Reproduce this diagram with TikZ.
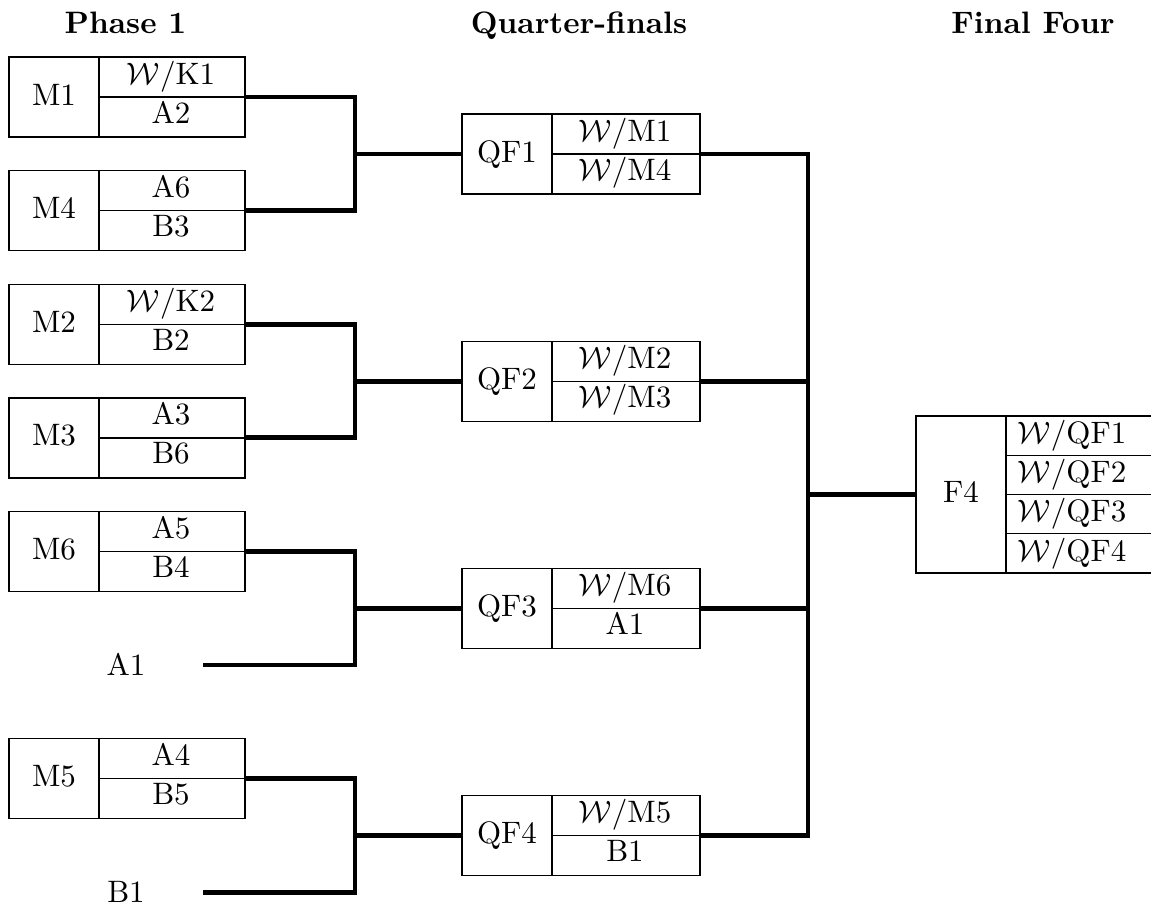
\documentclass[tikz,border=0pt]{standalone}
\usetikzlibrary{calc}
\begin{document}
\begin{tikzpicture}[x=0.3226pt,y=-0.3226pt,
  frame/.style={draw, line width=0.45pt, inner sep=0pt, outer sep=0pt},
  gbox/.style={frame, minimum width=76.13pt, minimum height=25.81pt},
  qbox/.style={frame, minimum width=76.78pt, minimum height=25.81pt},
  txt/.style={inner sep=0pt, anchor=base},
  hdr/.style={inner sep=0pt, anchor=base, font=\bfseries},
  wire/.style={line width=1.6pt}]
\useasboundingbox (0,0) rectangle (1151,907);

\newcommand\gamebox[7]{% style, name, cx, cy, label, top, bottom
  \node[#1] (#2) at (#3,#4) {};
  \draw[line width=0.45pt] ($(#2.north west)+(90,0)$) -- ($(#2.south west)+(90,0)$);
  \draw[line width=0.45pt] ($(#2.west)+(90,0)$) -- (#2.east);
  \node[txt] at ($(#2.west)+(45,8)$) {#5};
  \path (#2.north east) -- ($(#2.north west)+(90,0)$) coordinate[pos=0.5] (#2-rc);
  \node[txt] at ($(#2-rc)+(-1,27)$) {#6};
  \node[txt] at ($(#2-rc)+(-1,66)$) {#7};
}

% headers
\node[hdr] (h1) at (125.5,33) {Phase 1};
\node[hdr] (h2) at (579,33) {Quarter-finals};
\node[hdr] (h3) at (1033,33) {Final Four};

% phase 1
\gamebox{gbox}{M1}{127}{97}{M1}{$\mathcal{W}$/K1}{A2}
\gamebox{gbox}{M4}{127}{210.6}{M4}{A6}{B3}
\gamebox{gbox}{M2}{127}{324.2}{M2}{$\mathcal{W}$/K2}{B2}
\gamebox{gbox}{M3}{127}{437.8}{M3}{A3}{B6}
\gamebox{gbox}{M6}{127}{551.4}{M6}{A5}{B4}
\gamebox{gbox}{M5}{127}{778.6}{M5}{A4}{B5}
\node[txt] (A1) at (126,675.6) {A1};
\node[txt] (B1) at (126,902.8) {B1};
\coordinate (a1) at (203,665);
\coordinate (b1) at (203,892.2);

% quarter-finals
\gamebox{qbox}{QF1}{581}{154}{QF1}{$\mathcal{W}$/M1}{$\mathcal{W}$/M4}
\gamebox{qbox}{QF2}{581}{381.2}{QF2}{$\mathcal{W}$/M2}{$\mathcal{W}$/M3}
\gamebox{qbox}{QF3}{581}{608.4}{QF3}{$\mathcal{W}$/M6}{A1}
\gamebox{qbox}{QF4}{581}{835.6}{QF4}{$\mathcal{W}$/M5}{B1}

% final four
\node[frame, minimum width=78.71pt, minimum height=50.65pt] (F4) at (1038,494.5) {};
\draw[line width=0.45pt] ($(F4.north west)+(90,0)$) -- ($(F4.south west)+(90,0)$);
\foreach \k in {1,2,3}
  \draw[line width=0.45pt] ($(F4.north west)+(90,39.25*\k)$) -- ($(F4.north east)+(0,39.25*\k)$);
\node[txt] at ($(F4.west)+(45,8)$) {F4};
\foreach \k in {1,2,3,4}
  \node[txt] at ($(F4.north west)+(156,39.25*\k-12)$) {$\mathcal{W}$/QF\k};

% connectors phase 1 -> QF
\path (QF1.west) ++(-107,0) coordinate (j1);
\path (QF2.west) ++(-107,0) coordinate (j2);
\path (QF3.west) ++(-107,0) coordinate (j3);
\path (QF4.west) ++(-107,0) coordinate (j4);
\draw[wire] (M1.east) -| (j1) |- (M4.east);
\draw[wire] (j1) -- (QF1.west);
\draw[wire] (M2.east) -| (j2) |- (M3.east);
\draw[wire] (j2) -- (QF2.west);
\draw[wire] (M6.east) -| (j3) |- (a1);
\draw[wire] (j3) -- (QF3.west);
\draw[wire] (M5.east) -| (j4) |- (b1);
\draw[wire] (j4) -- (QF4.west);

% connectors QF -> F4
\path (F4.west) ++(-108,0) coordinate (jf);
\draw[wire] (QF1.east) -| (jf) |- (QF4.east);
\draw[wire] (QF2.east) -- (QF2.east -| jf);
\draw[wire] (QF3.east) -- (QF3.east -| jf);
\draw[wire] (jf) -- (F4.west);
\end{tikzpicture}
\end{document}
